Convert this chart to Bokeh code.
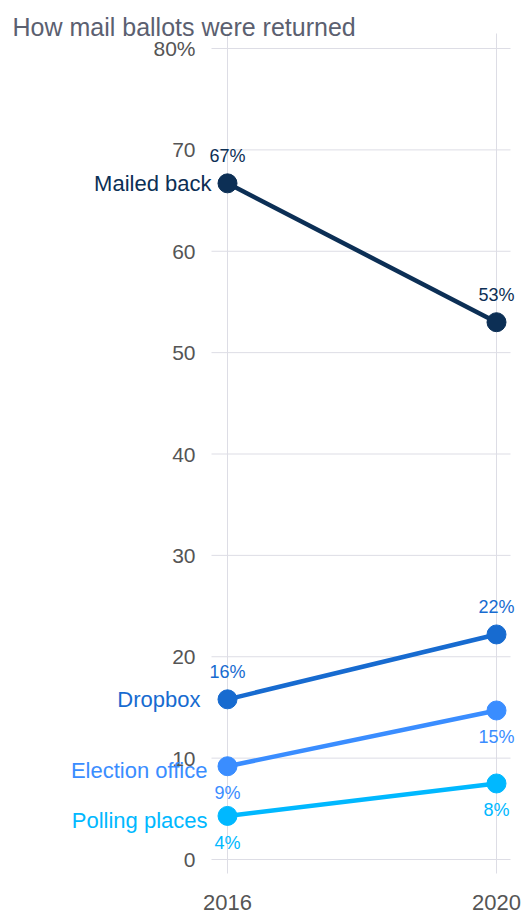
from bokeh.plotting import figure
from bokeh.models import ColumnDataSource, LabelSet, Label, FixedTicker, Range1d, LinearAxis
from bokeh.core.properties import value
from bokeh.embed import file_html
from bokeh.resources import INLINE

# ---- data ----
years = [2016, 2020]
series = ["Mailed back", "Dropbox", "Election office", "Polling places"]
mailed_back = [66.7, 53.0]
dropbox = [15.8, 22.2]
election_office = [9.2, 14.7]
polling_places = [4.3, 7.5]
value_labels = {
    "Mailed back": ["67%", "53%"],
    "Dropbox": ["16%", "22%"],
    "Election office": ["9%", "15%"],
    "Polling places": ["4%", "8%"],
}
y_ticks = [0, 10, 20, 30, 40, 50, 60, 70, 80]
y_tick_labels = ["0", "10", "20", "30", "40", "50", "60", "70", "80%"]
title_text = "How mail ballots were returned"

# ---- styles / layout ----
colors = ["#0c2f55", "#176bd0", "#3a8dff", "#00b8ff"]
label_above = [True, True, False, False]
name_dx = [-16, -27, -20, -20]
name_dy = [0, 0, -4, -5]
FONT = "Liberation Sans"
W, H = 525, 913
# pixel layout of the plotting area
PX_2016, PX_PER_YEAR = 227, 67.25
PY_0, PX_PER_UNIT = 859, 10.1375
GRID_LEFT, GRID_RIGHT, GRID_TOP, GRID_BOTTOM = 211, 510, 33, 873

x_start = years[0] - PX_2016 / PX_PER_YEAR
x_end = years[0] + (W - PX_2016) / PX_PER_YEAR
y_start = -(H - PY_0) / PX_PER_UNIT
y_end = PY_0 / PX_PER_UNIT
gx0 = years[0] - (PX_2016 - GRID_LEFT) / PX_PER_YEAR
gx1 = years[0] + (GRID_RIGHT - PX_2016) / PX_PER_YEAR
gy0 = -(GRID_BOTTOM - PY_0) / PX_PER_UNIT
gy1 = (PY_0 - GRID_TOP) / PX_PER_UNIT

values = [mailed_back, dropbox, election_office, polling_places]

p = figure(width=W, height=H, output_backend="svg", toolbar_location=None,
           x_range=Range1d(x_start, x_end), y_range=Range1d(y_start, y_end),
           x_axis_location=None, y_axis_location=None,
           min_border=0)
p.outline_line_color = None
p.background_fill_color = "white"
p.border_fill_color = "white"
p.grid.visible = False

xaxis = LinearAxis(ticker=FixedTicker(ticks=years), fixed_location=gy0)
yaxis = LinearAxis(ticker=FixedTicker(ticks=y_ticks), fixed_location=gx0)
yaxis.major_label_overrides = {t: l for t, l in zip(y_ticks, y_tick_labels)}
for ax in (xaxis, yaxis):
    ax.axis_line_color = None
    ax.major_tick_line_color = None
    ax.minor_tick_line_color = None
    ax.major_tick_out = 0
    ax.major_tick_in = 0
    ax.major_label_text_font = FONT
    ax.major_label_text_font_size = "21px"
    ax.major_label_text_color = "#555555"
xaxis.major_label_text_font_size = "22px"
yaxis.major_label_standoff = 16
xaxis.major_label_standoff = 21
p.add_layout(xaxis, "below")
p.add_layout(yaxis, "left")

# grid lines limited to the plotting area
grid_color = "#dddde5"
p.segment(x0=years, x1=years, y0=[gy0] * len(years), y1=[gy1] * len(years),
          line_color=grid_color, line_width=1)
p.segment(x0=[gx0] * len(y_ticks), x1=[gx1] * len(y_ticks), y0=y_ticks, y1=y_ticks,
          line_color=grid_color, line_width=1)

for name, vals, col, above, dx, dy in zip(series, values, colors, label_above, name_dx, name_dy):
    src = ColumnDataSource(dict(x=years, y=vals, lab=value_labels[name]))
    p.line("x", "y", source=src, line_color=col, line_width=4.5)
    p.scatter("x", "y", source=src, size=19, fill_color=col, line_color=col)
    p.add_layout(LabelSet(x="x", y="y", text="lab", source=src,
                          y_offset=27 if above else -27,
                          text_align="center", text_baseline="middle",
                          text_font=value(FONT), text_font_size="18px", text_color=col))
    nsrc = ColumnDataSource(dict(x=[years[0]], y=[vals[0]], lab=[name]))
    p.add_layout(LabelSet(x="x", y="y", text="lab", source=nsrc,
                          x_offset=dx, y_offset=dy,
                          text_align="right", text_baseline="middle",
                          text_font=value(FONT), text_font_size="22px", text_color=col))

p.add_layout(Label(x=12, y=H - 26, x_units="screen", y_units="screen", text=title_text,
                   text_font=FONT, text_font_size="25px", text_color="#5b6070",
                   text_baseline="alphabetic", text_align="left"))

open("out.html", "w").write(file_html(p, INLINE))
